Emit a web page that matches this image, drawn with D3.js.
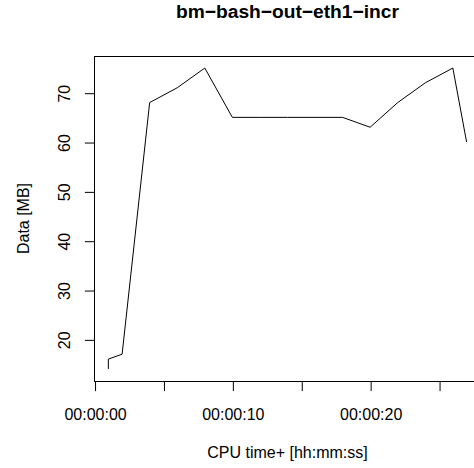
<!DOCTYPE html>
<html>
<head>
<meta charset="utf-8">
<script src="https://cdn.jsdelivr.net/npm/d3@7/dist/d3.min.js"></script>
<style>
  html, body { margin: 0; padding: 0; background: #fff; }
  svg { display: block; font-family: "Liberation Sans", Arial, Helvetica, sans-serif; }
</style>
</head>
<body>
<svg id="chart" width="474" height="468"></svg>
<script>
// Sampled CPU time (seconds) and data volume (MB)
const timeSec = [1, 1, 2, 4, 6, 8, 10, 12, 14, 16, 18, 20, 22, 24, 26, 27];
const dataMB  = [14, 16, 17, 68, 71, 75, 65, 65, 65, 65, 65, 63, 68, 72, 75, 60];

// Axis ticks
const xTickValues = [0, 5, 10, 15, 20, 25];
const xTickLabels = ["00:00:00", "", "00:00:10", "", "00:00:20", ""];
const yTickValues = [20, 30, 40, 50, 60, 70];

const titleText = "bm\u2212bash\u2212out\u2212eth1\u2212incr";
const xTitle = "CPU time+ [hh:mm:ss]";
const yTitle = "Data [MB]";

const svg = d3.select("#chart");

// Plot region (extends slightly past the right edge of the canvas)
const plotLeft = 94, plotTop = 56, plotBottom = 381, pxPerSec = 13.78;

// Pad the data range by 4% on each side
function padded(ext) {
  const d = (ext[1] - ext[0]) * 0.04;
  return [ext[0] - d, ext[1] + d];
}
const xDom = padded(d3.extent(timeSec));
const yDom = padded(d3.extent(dataMB));
const plotRight = plotLeft + (xDom[1] - xDom[0]) * pxPerSec;

const x = d3.scaleLinear().domain(xDom).range([plotLeft, plotRight]);
const y = d3.scaleLinear().domain(yDom).range([plotBottom, plotTop]);

// Series line
const pts = timeSec.map((t, i) => [t, dataMB[i]]);
svg.append("path")
  .datum(pts)
  .attr("fill", "none")
  .attr("stroke", "#000")
  .attr("stroke-width", 1)
  .attr("stroke-linejoin", "round")
  .attr("d", d3.line().x(d => x(d[0])).y(d => y(d[1])));

// Frame
svg.append("rect")
  .attr("x", plotLeft + 0.5).attr("y", plotTop + 0.5)
  .attr("width", plotRight - plotLeft).attr("height", plotBottom - plotTop)
  .attr("fill", "none").attr("stroke", "#000").attr("stroke-width", 1);

// Bottom axis
const xAxis = d3.axisBottom(x)
  .tickValues(xTickValues)
  .tickSize(9.6)
  .tickSizeOuter(0)
  .tickFormat((d, i) => xTickLabels[i]);
const gx = svg.append("g")
  .attr("transform", `translate(0.5,${plotBottom + 0.5})`)
  .call(xAxis);
gx.select(".domain").remove();
gx.selectAll(".tick line").attr("stroke", "#000");
gx.selectAll(".tick text")
  .attr("y", 38.5).attr("dy", 0)
  .attr("font-size", 16).attr("fill", "#000")
  .attr("font-family", "Liberation Sans, Arial, sans-serif");

// Left axis with rotated labels
const yAxis = d3.axisLeft(y)
  .tickValues(yTickValues)
  .tickSize(9.6)
  .tickSizeOuter(0)
  .tickFormat(d3.format("d"));
const gy = svg.append("g")
  .attr("transform", `translate(${plotLeft + 0.5},0.5)`)
  .call(yAxis);
gy.select(".domain").remove();
gy.selectAll(".tick line").attr("stroke", "#000");
gy.selectAll(".tick text")
  .attr("x", 0).attr("y", 0).attr("dy", 0)
  .attr("text-anchor", "middle")
  .attr("transform", "translate(-24.5,0) rotate(-90)")
  .attr("font-size", 16).attr("fill", "#000")
  .attr("font-family", "Liberation Sans, Arial, sans-serif");

// Titles
const cx = (plotLeft + plotRight) / 2;
svg.append("text")
  .attr("x", cx).attr("y", 17.5)
  .attr("text-anchor", "middle")
  .attr("font-size", 19.2).attr("font-weight", "bold")
  .text(titleText);

svg.append("text")
  .attr("x", cx).attr("y", 457.5)
  .attr("text-anchor", "middle")
  .attr("font-size", 16)
  .text(xTitle);

svg.append("text")
  .attr("transform", `translate(29.3,${(plotTop + plotBottom) / 2}) rotate(-90)`)
  .attr("text-anchor", "middle")
  .attr("font-size", 16)
  .text(yTitle);
</script>
</body>
</html>
